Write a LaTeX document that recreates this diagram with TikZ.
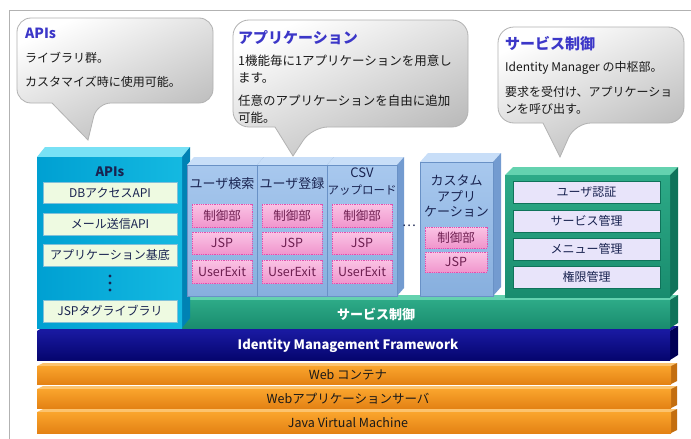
\documentclass[tikz,border=0pt]{standalone}
\usepackage{fontspec}
\setmainfont{Noto Sans CJK JP}
\definecolor{titleblue}{RGB}{60,55,200}
\definecolor{apifront}{RGB}{20,185,225}
\definecolor{apifrontb}{RGB}{0,160,210}
\definecolor{apitop}{RGB}{120,225,245}
\definecolor{apiside}{RGB}{0,130,180}
\definecolor{apiinner}{RGB}{238,250,225}
\definecolor{appfront}{RGB}{168,200,238}
\definecolor{appfrontb}{RGB}{135,175,222}
\definecolor{apptop}{RGB}{200,222,248}
\definecolor{appside}{RGB}{115,155,208}
\definecolor{appedge}{RGB}{105,145,198}
\definecolor{pinktop}{RGB}{250,195,228}
\definecolor{pinkbot}{RGB}{240,150,205}
\definecolor{pinkedge}{RGB}{225,80,175}
\definecolor{pinktext}{RGB}{110,30,80}
\definecolor{grfront}{RGB}{45,170,135}
\definecolor{grfrontb}{RGB}{25,140,110}
\definecolor{grtop}{RGB}{100,210,175}
\definecolor{grside}{RGB}{15,115,90}
\definecolor{lav}{RGB}{232,228,250}
\definecolor{navyfront}{RGB}{25,25,160}
\definecolor{navyfrontb}{RGB}{5,5,110}
\definecolor{navyside}{RGB}{0,0,85}
\definecolor{orfront}{RGB}{250,165,45}
\definecolor{orfrontb}{RGB}{228,130,20}
\definecolor{ortop}{RGB}{252,195,110}
\definecolor{orside}{RGB}{195,110,15}
\definecolor{darktext}{RGB}{25,35,80}
\newcommand\cubeT[9]{%
  \path[#8] (#1,#2) -- (#1+#5,#2-#6) -- (#3+#5,#2-#6) -- (#3,#2) -- cycle;
  \path[#9] (#3,#2) -- (#3+#5,#2-#6) -- (#3+#5,#4-#6) -- (#3,#4) -- cycle;
  \path[#7] (#1,#2) rectangle (#3,#4);
}
\tikzset{
  bubble/.style={draw=gray!60, line width=0.8pt, top color=white, bottom color=gray!55, shading angle=25},
  btitle/.style={anchor=west, inner sep=0pt, text=titleblue, font=\fontsize{15}{17}\selectfont\bfseries},
  btext/.style={anchor=west, inner sep=0pt, text=black!90, font=\fontsize{12}{14}\selectfont},
  apibox/.style={draw=apiside!50, fill=apiinner, line width=0.5pt, inner sep=0pt, minimum width=134pt, minimum height=21pt, text=darktext, font=\fontsize{12}{14}\selectfont},
  pinkbox/.style={draw=pinkedge, densely dotted, line width=0.8pt, top color=pinktop, bottom color=pinkbot, inner sep=0pt, minimum width=60pt, minimum height=22pt, text=pinktext, font=\fontsize{12.5}{14}\selectfont},
  lavbox/.style={draw=grside, fill=lav, line width=0.6pt, inner sep=0pt, minimum width=147pt, minimum height=22pt, text=darktext, font=\fontsize{12}{14}\selectfont},
  apptitle/.style={inner sep=0pt, text=darktext, font=\fontsize{13}{15}\selectfont},
  bandtext/.style={inner sep=0pt, text=black!90, font=\fontsize{12.5}{14}\selectfont},
}
\begin{document}
\begin{tikzpicture}[x=1pt,y=-1pt]
\useasboundingbox (0,0) rectangle (691,439);
\fill[white] (0,0) rectangle (691,439);
\draw[gray!60, line width=1pt] (9,439) -- (9,10) -- (691,10);

% bubbles
\draw[bubble] (17,60) [rounded corners=14pt] -- (17,18) -- (213,18) -- (213,103) -- (97,103) [sharp corners] -- (88,140) -- (52,103) [rounded corners=14pt] -- (17,103) -- cycle;
\node[btitle, font=\fontsize{14}{16}\selectfont\bfseries] (b1t) at (25,33) {APIs};
\node[btext] (b1a) at (25,58) {ライブラリ群。};
\node[btext] (b1b) at (25,82) {カスタマイズ時に使用可能。};

\draw[bubble] (233,70) [rounded corners=16pt] -- (233,20) -- (468,20) -- (468,127) -- (312,127) [sharp corners] -- (293,156) -- (275,127) [rounded corners=16pt] -- (233,127) -- cycle;
\node[btitle] (b2t) at (238,38) {アプリケーション};
\node[btext, font=\fontsize{12.5}{14}\selectfont] (b2a) at (238,61) {1機能毎に1アプリケーションを用意し};
\node[btext, font=\fontsize{12.5}{14}\selectfont] (b2b) at (238,78) {ます。};
\node[btext, font=\fontsize{12.5}{14}\selectfont] (b2c) at (238,101) {任意のアプリケーションを自由に追加};
\node[btext, font=\fontsize{12.5}{14}\selectfont] (b2d) at (238,118) {可能。};

\draw[bubble] (498,70) [rounded corners=16pt] -- (498,27) -- (684,27) -- (684,123) -- (575,123) [sharp corners] -- (560,157) -- (543,123) [rounded corners=16pt] -- (498,123) -- cycle;
\node[btitle] (b3t) at (505,44) {サービス制御};
\node[btext] (b3a) at (505,68) {Identity Manager の中枢部。};
\node[btext] (b3b) at (505,92) {要求を受付け、アプリケーショ};
\node[btext] (b3c) at (505,109) {ンを呼び出す。};

% orange bands
\cubeT{37}{412}{671}{433}{6}{3}{top color=orfront, bottom color=orfrontb}{fill=ortop}{fill=orside}
\cubeT{37}{389}{671}{408}{6}{3}{top color=orfront, bottom color=orfrontb}{fill=ortop}{fill=orside}
\cubeT{37}{366}{671}{384}{6}{3}{top color=orfront, bottom color=orfrontb}{fill=ortop}{fill=orside}
\node[bandtext] (web) at (348,375) {Web コンテナ};
\node[bandtext] (was) at (348,398.5) {Webアプリケーションサーバ};
\node[bandtext] (jvm) at (348,422.5) {Java Virtual Machine};

% navy
\cubeT{37}{331}{670}{360}{8}{5}{top color=navyfront, bottom color=navyfrontb}{fill=navyfront}{fill=navyside}
\node[inner sep=0pt, text=white, font=\fontsize{13}{15}\selectfont\bfseries] (imf) at (348,345.5) {Identity Management Framework};

% green band
\cubeT{182}{300}{670}{328}{8}{5}{top color=grfront, bottom color=grfrontb}{fill=grtop}{fill=grside}
\node[inner sep=0pt, text=white, font=\fontsize{13}{15}\selectfont\bfseries] (svc) at (376,314) {サービス制御};

% APIs
\cubeT{37}{157}{182}{328}{8}{10}{left color=apifrontb, right color=apifront}{fill=apitop}{fill=apiside}
\node[apptitle, font=\fontsize{13}{15}\selectfont\bfseries] (apit) at (110,172) {APIs};
\node[apibox] (api1) at (110,192.5) {DBアクセスAPI};
\node[apibox, minimum height=22pt] (api2) at (110,224) {メール送信API};
\node[apibox, minimum height=22pt] (api3) at (110,255) {アプリケーション基底};
\fill[darktext] (110,276) circle (1.6pt) (110,283) circle (1.6pt) (110,290) circle (1.6pt);
\node[apibox, minimum height=22pt] (api4) at (110,311) {JSPタグライブラリ};

% applications
\cubeT{187}{165}{257}{296}{7}{8}{draw=appedge, top color=appfront, bottom color=appfrontb}{fill=apptop}{fill=appside}
\cubeT{257}{165}{327}{296}{7}{8}{draw=appedge, top color=appfront, bottom color=appfrontb}{fill=apptop}{fill=appside}
\cubeT{327}{165}{397}{296}{7}{8}{draw=appedge, top color=appfront, bottom color=appfrontb}{fill=apptop}{fill=appside}
\node[apptitle] (a1t) at (222,184) {ユーザ検索};
\node[apptitle] (a2t) at (292,184) {ユーザ登録};
\node[apptitle] (a3t) at (362,173) {CSV};
\node[apptitle, font=\fontsize{11.5}{13}\selectfont] (a3u) at (362,190) {アップロード};
\foreach \cx/\nm in {222/a, 292/b, 362/c}{
  \node[pinkbox, minimum height=23pt] (ctl\nm) at (\cx,215.5) {制御部};
  \node[pinkbox] (jsp\nm) at (\cx,243) {JSP};
  \node[pinkbox, minimum height=23pt] (ue\nm) at (\cx,271.5) {UserExit};
}
\node[inner sep=0pt, text=darktext, font=\fontsize{13}{15}\selectfont] (dots) at (409,226) {…};

% custom app
\cubeT{420}{162}{493}{296}{8}{9}{draw=appedge, top color=appfront, bottom color=appfrontb}{fill=apptop}{fill=appside}
\node[apptitle] (c1) at (456.5,180) {カスタム};
\node[apptitle] (c2) at (456.5,196) {アプリ};
\node[apptitle] (c3) at (456.5,212) {ケーション};
\node[pinkbox, minimum width=62pt, minimum height=21pt] (ctld) at (456,237.5) {制御部};
\node[pinkbox, minimum width=62pt, minimum height=20pt] (jspd) at (456,262) {JSP};

% service control box
\cubeT{505}{175}{670}{297}{8}{8}{top color=grfront, bottom color=grfrontb}{fill=grtop}{fill=grside}
\node[lavbox] (s1) at (586.5,192) {ユーザ認証};
\node[lavbox] (s2) at (586.5,221) {サービス管理};
\node[lavbox] (s3) at (586.5,249) {メニュー管理};
\node[lavbox] (s4) at (586.5,277) {権限管理};
\end{tikzpicture}
\end{document}
